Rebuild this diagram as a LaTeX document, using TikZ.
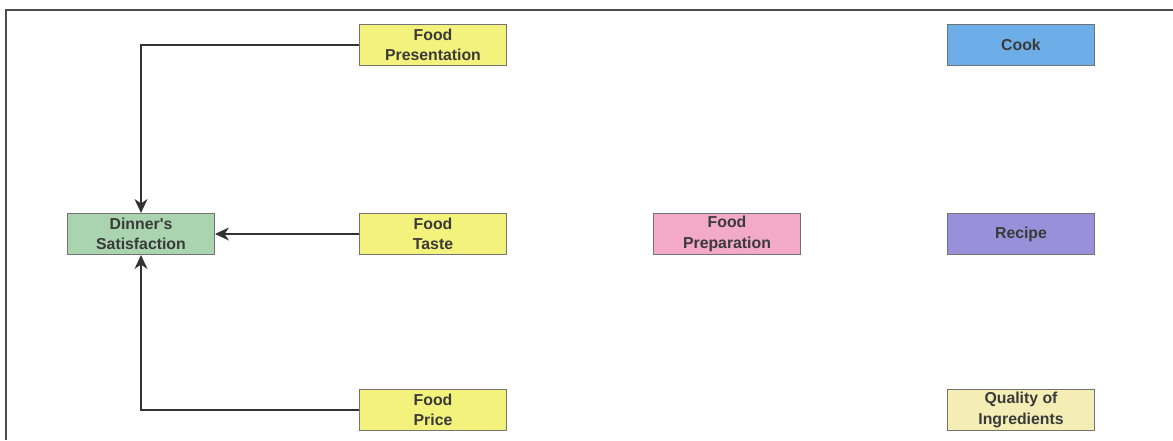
\documentclass[tikz,border=0pt]{standalone}
\usepackage{fontspec}
\setmainfont{Liberation Sans}
\usetikzlibrary{arrows.meta,positioning}
\definecolor{foodyellow}{HTML}{F2F27C}
\definecolor{satgreen}{HTML}{A9D4AF}
\definecolor{prepink}{HTML}{F3A9C8}
\definecolor{recpurple}{HTML}{9A8FD9}
\definecolor{cookblue}{HTML}{6EAEE8}
\definecolor{qualcream}{HTML}{F4EEB6}
\definecolor{boxtext}{HTML}{3A3A3A}
\tikzset{
  factor/.style={
    shape = rectangle,
    draw = black!55,
    line width = 0.6pt,
    minimum width = 2.94cm,
    minimum height = 0.82cm,
    inner sep = 0pt,
    align = center,
    text = boxtext,
    font = \fontsize{9}{11.5}\selectfont\bfseries
  },
  link/.style={
    draw = black!80,
    line width = 1.1pt,
    -{Stealth[length=0.28cm,width=0.26cm,inset=0.09cm]}
  },
}
\begin{document}
\begin{tikzpicture}[x=0.02cm,y=-0.02cm]
    \useasboundingbox (0,0) rectangle (1173,440);
    \draw[black!70, line width=1pt] (1173,10) -- (6,10) -- (6,440);

    \node[factor, fill=satgreen] (satisf) at (141,234) {Dinner\textquotesingle s\\Satisfaction};
    \node[factor, fill=foodyellow] (present) at (433,45) {Food\\Presentation};
    \node[factor, fill=foodyellow] (taste) at (433,234) {Food\\Taste};
    \node[factor, fill=foodyellow] (price) at (433,410) {Food\\Price};
    \node[factor, fill=prepink] (prep) at (727,234) {Food\\Preparation};
    \node[factor, fill=cookblue] (cook) at (1021,45) {Cook};
    \node[factor, fill=recpurple] (recipe) at (1021,234) {Recipe};
    \node[factor, fill=qualcream] (quality) at (1021,410) {Quality of\\Ingredients};

    \draw[link] (present.west) -| (satisf.north);
    \draw[link] (taste.west) -- (satisf.east);
    \draw[link] (price.west) -| (satisf.south);
\end{tikzpicture}
\end{document}
